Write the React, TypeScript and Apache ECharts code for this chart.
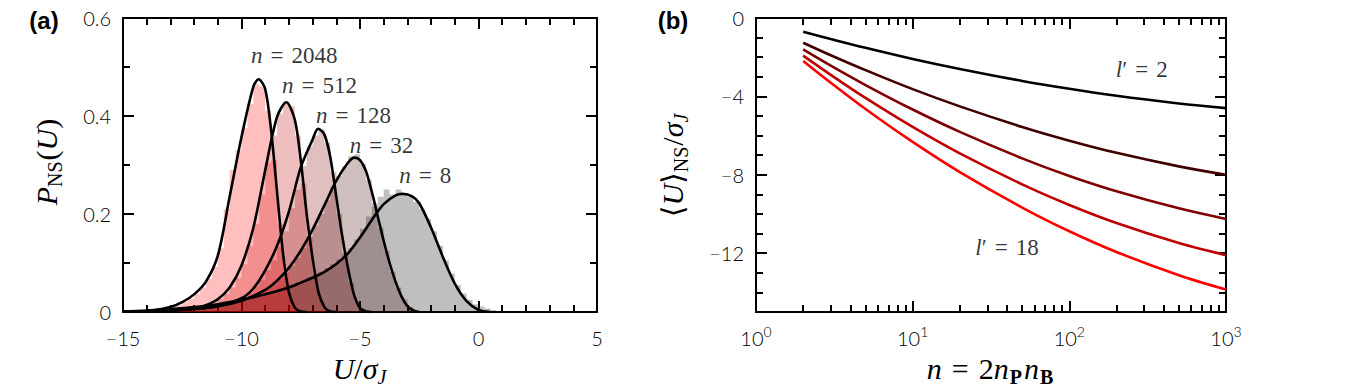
import React, { useEffect, useRef } from "react";
import * as echarts from "echarts";

// ---------- Panel (a): histograms (bin width 0.25, left edge of first bin) ----------
const BIN_WIDTH = 0.25;
const HIST_START = -13.5;
const hist8 = [0.003, 0.004, 0.005, 0.006, 0.007, 0.008, 0.010, 0.011, 0.013, 0.015, 0.017, 0.019, 0.022, 0.025, 0.028, 0.031, 0.034, 0.037, 0.041, 0.044, 0.048, 0.052, 0.056, 0.060, 0.065, 0.070, 0.076, 0.082, 0.090, 0.098, 0.107, 0.118, 0.130, 0.148, 0.170, 0.195, 0.215, 0.235, 0.250, 0.240, 0.250, 0.238, 0.235, 0.225, 0.210, 0.190, 0.165, 0.135, 0.105, 0.078, 0.055, 0.038, 0.025, 0.016, 0.011, 0.007, 0.004, 0.002];
const hist32 = [0.002, 0.002, 0.003, 0.004, 0.004, 0.005, 0.006, 0.008, 0.009, 0.011, 0.013, 0.016, 0.019, 0.022, 0.026, 0.031, 0.037, 0.043, 0.050, 0.058, 0.068, 0.080, 0.094, 0.110, 0.130, 0.152, 0.176, 0.200, 0.228, 0.255, 0.278, 0.298, 0.318, 0.322, 0.302, 0.270, 0.222, 0.172, 0.125, 0.082, 0.050, 0.026, 0.010, 0.003, 0.001];
const hist128 = [0.002, 0.002, 0.003, 0.003, 0.004, 0.005, 0.006, 0.008, 0.009, 0.011, 0.013, 0.016, 0.020, 0.025, 0.031, 0.040, 0.052, 0.066, 0.085, 0.105, 0.133, 0.165, 0.212, 0.250, 0.298, 0.338, 0.360, 0.372, 0.345, 0.285, 0.200, 0.120, 0.060, 0.020, 0.006, 0.001];
const hist512 = [0.002, 0.002, 0.003, 0.004, 0.005, 0.006, 0.008, 0.010, 0.014, 0.019, 0.026, 0.036, 0.050, 0.070, 0.098, 0.135, 0.180, 0.240, 0.305, 0.360, 0.405, 0.430, 0.420, 0.360, 0.262, 0.155, 0.075, 0.025, 0.006, 0.001];
const hist2048 = [0.005, 0.007, 0.010, 0.014, 0.020, 0.027, 0.037, 0.050, 0.068, 0.092, 0.130, 0.210, 0.290, 0.330, 0.375, 0.425, 0.465, 0.460, 0.410, 0.310, 0.180, 0.080, 0.025, 0.005, 0.001];

// ---------- Panel (a): fitted curves [U/sigma, P] ----------
const curve8 = [[-15, 0.001], [-14, 0.003], [-13, 0.006], [-12, 0.01], [-11, 0.016], [-10, 0.025], [-9, 0.036], [-8, 0.05], [-7.5, 0.06], [-7, 0.07], [-6.5, 0.082], [-6, 0.098], [-5.5, 0.12], [-5, 0.152], [-4.5, 0.188], [-4, 0.22], [-3.5, 0.238], [-3.2, 0.241], [-2.8, 0.236], [-2.5, 0.222], [-2, 0.172], [-1.5, 0.112], [-1, 0.058], [-0.5, 0.022], [0, 0.004], [0.5, 0]];
const curve32 = [[-15, 0.0005], [-14, 0.001], [-13, 0.003], [-12, 0.006], [-11, 0.012], [-10, 0.023], [-9, 0.045], [-8.5, 0.064], [-8, 0.09], [-7.5, 0.125], [-7, 0.168], [-6.5, 0.218], [-6, 0.268], [-5.5, 0.305], [-5.23, 0.315], [-5, 0.31], [-4.75, 0.288], [-4.5, 0.245], [-4.25, 0.195], [-4, 0.145], [-3.75, 0.1], [-3.5, 0.062], [-3.25, 0.032], [-3, 0.012], [-2.75, 0.003], [-2.5, 0]];
const curve128 = [[-15, 0.0005], [-14, 0.001], [-13, 0.003], [-12, 0.006], [-11, 0.012], [-10, 0.028], [-9.5, 0.048], [-9, 0.085], [-8.5, 0.135], [-8, 0.205], [-7.5, 0.295], [-7, 0.352], [-6.77, 0.374], [-6.5, 0.362], [-6.25, 0.315], [-6, 0.235], [-5.75, 0.155], [-5.5, 0.088], [-5.25, 0.035], [-5, 0.008], [-4.75, 0.001], [-4.5, 0]];
const curve512 = [[-15, 0.0005], [-14, 0.001], [-13, 0.003], [-12, 0.007], [-11.5, 0.014], [-11, 0.026], [-10.5, 0.05], [-10, 0.095], [-9.5, 0.172], [-9, 0.289], [-8.5, 0.398], [-8.11, 0.428], [-7.75, 0.392], [-7.5, 0.31], [-7.25, 0.2], [-7, 0.11], [-6.75, 0.04], [-6.5, 0.01], [-6.25, 0.001], [-6, 0]];
const curve2048 = [[-15, 0.001], [-14, 0.002], [-13.5, 0.005], [-13, 0.01], [-12.5, 0.02], [-12, 0.036], [-11.5, 0.062], [-11, 0.115], [-10.5, 0.235], [-10, 0.357], [-9.5, 0.46], [-9.28, 0.475], [-9, 0.455], [-8.75, 0.37], [-8.5, 0.245], [-8.25, 0.12], [-8, 0.04], [-7.75, 0.009], [-7.5, 0.001], [-7.25, 0]];

// annotation labels (n values) and their anchor points in data coordinates
const annoNames = ["2048", "512", "128", "32", "8"];
const annoX = [-7.77, -6.71, -5.27, -4.09, -2.25];
const annoY = [0.523, 0.462, 0.401, 0.34, 0.279];

// ---------- Panel (b) ----------
const nPoints = [2, 3, 5, 10, 20, 50, 100, 200, 500, 1000];
const uL2 = [-0.70, -1.07, -1.52, -2.09, -2.60, -3.21, -3.61, -3.97, -4.36, -4.60];
const uL6 = [-1.26, -1.90, -2.66, -3.63, -4.51, -5.56, -6.26, -6.88, -7.57, -8.00];
const uL10 = [-1.60, -2.43, -3.42, -4.67, -5.81, -7.16, -8.06, -8.84, -9.71, -10.25];
const uL14 = [-1.92, -2.90, -4.08, -5.56, -6.91, -8.49, -9.54, -10.46, -11.48, -12.10];
const uL18 = [-2.19, -3.30, -4.64, -6.32, -7.86, -9.67, -10.88, -11.94, -13.12, -13.85];
const lpLabels = ["2", "18"];
const lpX = [290, 40];
const lpY = [-2.65, -11.73];

const yTicksB = [0, -4, -8, -12];
const xMinorB = [2, 3, 4, 5, 6, 7, 8, 9, 20, 30, 40, 50, 60, 70, 80, 90, 200, 300, 400, 500, 600, 700, 800, 900];

// ---------- styles ----------
const TICK_FONT = "Lato, 'Liberation Sans', sans-serif";
const MATH = "'Liberation Serif', 'DejaVu Serif', serif";
const BLACK = "#000";
const LINE = { color: BLACK, width: 2 };

const histColors = ["rgba(0,0,0,0.25)", "rgba(64,0,0,0.25)", "rgba(128,0,0,0.25)", "rgba(191,0,0,0.25)", "rgba(255,0,0,0.25)"];
const lineColorsB = ["#000000", "#400000", "#800000", "#bf0000", "#ff0000"];

const minus = (v: number | string) => String(v).replace("-", "\u2212");

function histData(start: number, values: number[]) {
  const pts: number[][] = values.map((v, i) => [start + i * BIN_WIDTH, v]);
  pts.push([start + values.length * BIN_WIDTH, 0]);
  return pts;
}

const tickLabel = { fontFamily: TICK_FONT, fontWeight: 300, fontSize: 20, color: BLACK };

function frameAxis(extra: any) {
  return {
    axisLine: { show: true, onZero: false, lineStyle: LINE },
    splitLine: { show: false },
    minorSplitLine: { show: false },
    ...extra,
  };
}

const annoRich = {
  i: { fontFamily: MATH, fontStyle: "italic", fontSize: 23, color: BLACK },
  e: { fontFamily: MATH, fontSize: 23, color: BLACK, padding: [0, 8] },
  r: { fontFamily: MATH, fontSize: 23, color: BLACK },
};

// main tokens top-aligned, subscript tokens bottom-aligned in a taller line
const MS = 30;
const SS = 20;
const SUB_LH = 34;
const titleRich = {
  i: { fontFamily: MATH, fontStyle: "italic", fontSize: MS, lineHeight: MS, verticalAlign: "top", fill: BLACK },
  r: { fontFamily: MATH, fontSize: MS, lineHeight: MS, verticalAlign: "top", fill: BLACK },
  e: { fontFamily: MATH, fontSize: MS, lineHeight: MS, verticalAlign: "top", fill: BLACK, padding: [0, 10] },
  si: { fontFamily: MATH, fontStyle: "italic", fontSize: SS, lineHeight: SUB_LH, verticalAlign: "bottom", fill: BLACK, padding: [0, 1, 0, 0] },
  sr: { fontFamily: MATH, fontSize: SS, lineHeight: SUB_LH, verticalAlign: "bottom", fill: BLACK, padding: [0, 1, 0, 0] },
  sb: { fontFamily: MATH, fontWeight: "bold", fontSize: SS, lineHeight: SUB_LH, verticalAlign: "bottom", fill: BLACK, padding: [0, 2, 0, 1] },
};

function buildOption() {
  const histSets = [hist8, hist32, hist128, hist512, hist2048];
  const curves = [curve8, curve32, curve128, curve512, curve2048];
  const bSets = [uL2, uL6, uL10, uL14, uL18];

  const series: any[] = [];
  histSets.forEach((h, k) => {
    series.push({
      type: "line",
      xAxisIndex: 0,
      yAxisIndex: 0,
      data: histData(HIST_START, h),
      step: "end",
      symbol: "none",
      silent: true,
      lineStyle: { width: 0, opacity: 0 },
      areaStyle: { color: histColors[k], opacity: 1 },
      z: 1,
    });
  });
  curves.forEach((c) => {
    series.push({
      type: "line",
      xAxisIndex: 0,
      yAxisIndex: 0,
      data: c,
      smooth: 0.3,
      symbol: "none",
      silent: true,
      lineStyle: { color: BLACK, width: 2.6 },
      z: 3,
    });
  });
  series.push({
    type: "scatter",
    xAxisIndex: 0,
    yAxisIndex: 0,
    symbolSize: 1,
    itemStyle: { color: "transparent" },
    silent: true,
    z: 5,
    data: annoNames.map((nm, i) => ({ name: nm, value: [annoX[i], annoY[i]] })),
    label: {
      show: true,
      position: "inside",
      formatter: (p: any) => `{i|n}{e|=}{r|${p.name}}`,
      rich: annoRich,
    },
  });
  bSets.forEach((u, k) => {
    series.push({
      type: "line",
      xAxisIndex: 2,
      yAxisIndex: 2,
      data: nPoints.map((n, i) => [n, u[i]]),
      smooth: 0.35,
      symbol: "none",
      silent: true,
      lineStyle: { color: lineColorsB[k], width: 2.6 },
      z: 3,
    });
  });
  series.push({
    type: "scatter",
    xAxisIndex: 2,
    yAxisIndex: 2,
    symbolSize: 1,
    itemStyle: { color: "transparent" },
    silent: true,
    z: 5,
    data: lpLabels.map((nm, i) => ({ name: nm, value: [lpX[i], lpY[i]] })),
    label: {
      show: true,
      position: "inside",
      formatter: (p: any) => `{i|l}{r|\u2032}{e|=}{r|${p.name}}`,
      rich: annoRich,
    },
  });

  const majorTick = { show: true, inside: true, length: 11, lineStyle: LINE };
  const minorTickLen = 7;

  const xAxis: any[] = [
    // panel a
    frameAxis({
      gridIndex: 0, type: "value", min: -15, max: 5, interval: 5, position: "bottom",
      axisTick: majorTick,
      minorTick: { show: true, splitNumber: 5, length: minorTickLen, lineStyle: LINE },
      axisLabel: { ...tickLabel, margin: 16, formatter: (v: number) => minus(v) },
    }),
    frameAxis({
      gridIndex: 0, type: "value", min: -15, max: 5, interval: 5, position: "top",
      axisTick: majorTick,
      minorTick: { show: true, splitNumber: 5, length: minorTickLen, lineStyle: LINE },
      axisLabel: { show: false },
    }),
    // panel b
    frameAxis({
      gridIndex: 1, type: "log", logBase: 10, min: 1, max: 1000, position: "bottom",
      axisTick: majorTick,
      axisLabel: {
        margin: 12,
        formatter: (v: number) => `{b|10}{s|${Math.round(Math.log10(v))}}`,
        rich: {
          b: { fontFamily: TICK_FONT, fontWeight: 300, fontSize: 20, lineHeight: 24, verticalAlign: "bottom", color: BLACK },
          s: { fontFamily: TICK_FONT, fontWeight: 300, fontSize: 14, lineHeight: 12, verticalAlign: "top", color: BLACK },
        },
      },
    }),
    frameAxis({
      gridIndex: 1, type: "log", logBase: 10, min: 1, max: 1000, position: "bottom",
      axisTick: { show: true, inside: true, length: minorTickLen, lineStyle: LINE, customValues: xMinorB },
      axisLabel: { show: false },
    }),
    frameAxis({
      gridIndex: 1, type: "log", logBase: 10, min: 1, max: 1000, position: "top",
      axisTick: majorTick,
      axisLabel: { show: false },
    }),
    frameAxis({
      gridIndex: 1, type: "log", logBase: 10, min: 1, max: 1000, position: "top",
      axisTick: { show: true, inside: true, length: minorTickLen, lineStyle: LINE, customValues: xMinorB },
      axisLabel: { show: false },
    }),
  ];

  const yAxis: any[] = [
    frameAxis({
      gridIndex: 0, type: "value", min: 0, max: 0.6, interval: 0.2, position: "left",
      axisTick: majorTick,
      minorTick: { show: true, splitNumber: 2, length: minorTickLen, lineStyle: LINE },
      axisLabel: { ...tickLabel, margin: 12, formatter: (v: number) => (v === 0 ? "0" : v.toFixed(1)) },
    }),
    frameAxis({
      gridIndex: 0, type: "value", min: 0, max: 0.6, interval: 0.2, position: "right",
      axisTick: majorTick,
      minorTick: { show: true, splitNumber: 2, length: minorTickLen, lineStyle: LINE },
      axisLabel: { show: false },
    }),
    frameAxis({
      gridIndex: 1, type: "value", min: -15, max: 0, position: "left",
      axisTick: { ...majorTick, customValues: yTicksB },
      axisLabel: { ...tickLabel, margin: 12, customValues: yTicksB, formatter: (v: number) => minus(v) },
    }),
    frameAxis({
      gridIndex: 1, type: "value", min: -15, max: 0, interval: 1, position: "left",
      axisTick: { show: true, inside: true, length: minorTickLen, lineStyle: LINE },
      axisLabel: { show: false },
    }),
    frameAxis({
      gridIndex: 1, type: "value", min: -15, max: 0, position: "right",
      axisTick: { ...majorTick, customValues: yTicksB },
      axisLabel: { show: false },
    }),
    frameAxis({
      gridIndex: 1, type: "value", min: -15, max: 0, interval: 1, position: "right",
      axisTick: { show: true, inside: true, length: minorTickLen, lineStyle: LINE },
      axisLabel: { show: false },
    }),
  ];

  const panelFont = "'Liberation Sans', Arial, sans-serif";
  const graphic: any[] = [
    { type: "text", x: 44, y: 20, silent: true, style: { text: "(a)", fontFamily: panelFont, fontWeight: "bold", fontSize: 24, fill: BLACK, align: "center", verticalAlign: "middle" } },
    { type: "text", x: 673, y: 20, silent: true, style: { text: "(b)", fontFamily: panelFont, fontWeight: "bold", fontSize: 24, fill: BLACK, align: "center", verticalAlign: "middle" } },
    { type: "text", x: 360, y: 370, silent: true, style: { text: "{i|U}{r|/}{i|\u03c3}{si|J}", rich: titleRich, align: "center", verticalAlign: "middle" } },
    { type: "text", x: 991, y: 370, silent: true, style: { text: "{i|n}{e|=}{r|2}{i|n}{sb|P}{i|n}{sb|B}", rich: titleRich, align: "center", verticalAlign: "middle" } },
    { type: "text", x: 48, y: 162, rotation: Math.PI / 2, silent: true, style: { text: "{i|P}{sr|NS}{r|(}{i|U}{r|)}", rich: titleRich, align: "center", verticalAlign: "middle" } },
    { type: "text", x: 674, y: 165, rotation: Math.PI / 2, silent: true, style: { text: "{r|\u27e8}{i|U}{r|\u27e9}{sr|NS}{r|/}{i|\u03c3}{si|J}", rich: titleRich, align: "center", verticalAlign: "middle" } },
  ];

  return {
    animation: false,
    backgroundColor: "#fff",
    textStyle: { fontFamily: TICK_FONT },
    grid: [
      { left: 123, top: 18, width: 474, height: 294, containLabel: false },
      { left: 756, top: 18, width: 470, height: 294, containLabel: false },
    ],
    xAxis,
    yAxis,
    series,
    graphic,
  };
}

export default function App() {
  const ref = useRef<HTMLDivElement>(null);
  useEffect(() => {
    if (!ref.current) return;
    const chart = echarts.init(ref.current, null, { renderer: "svg" });
    chart.setOption(buildOption() as any);
    return () => chart.dispose();
  }, []);
  return <div ref={ref} style={{ position: "absolute", left: 0, top: 0, width: 1355, height: 390 }} />;
}
